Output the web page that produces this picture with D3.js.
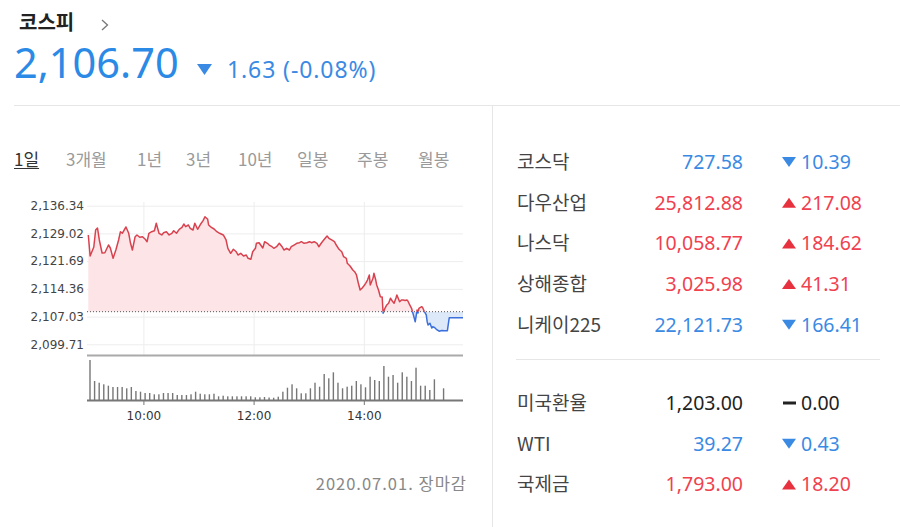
<!DOCTYPE html>
<html>
<head>
<meta charset="utf-8">
<script src="https://cdn.jsdelivr.net/npm/d3@7"></script>
<style>
  body { margin: 0; background: #fff; }
  svg text { font-family: "Noto Sans", "Noto Sans CJK KR", sans-serif; }
</style>
</head>
<body>
<div id="chart"></div>
<script>
// ---- data ----
const indexName = "코스피";
const closeValue = 2106.70;
const closeChange = -1.63;
const closeRate = -0.08;
const prevClose = 2108.33;
const statusLabel = "2020.07.01. 장마감";

const periodTabs = ["1일", "3개월", "1년", "3년", "10년", "일봉", "주봉", "월봉"];
const yTicks = [2136.34, 2129.02, 2121.69, 2114.36, 2107.03, 2099.71];
const xTicks = ["10:00", "12:00", "14:00"];

// intraday price [time, value]
const prices = [
  ["09:00", 2128.60], ["09:02", 2123.05], ["09:06", 2125.43], ["09:08", 2129.92],
  ["09:10", 2130.45], ["09:12", 2127.28], ["09:15", 2123.84], ["09:18", 2123.90],
  ["09:22", 2125.95], ["09:24", 2125.16], ["09:27", 2122.44], ["09:30", 2124.63],
  ["09:33", 2127.28], ["09:35", 2129.47], ["09:37", 2129.05], ["09:41", 2130.71],
  ["09:44", 2129.05], ["09:46", 2126.40], ["09:48", 2124.63], ["09:51", 2128.15],
  ["09:53", 2128.60], ["09:56", 2127.99], ["09:59", 2128.15], ["10:02", 2127.46],
  ["10:04", 2126.83], ["10:06", 2129.05], ["10:09", 2129.47], ["10:12", 2129.73],
  ["10:14", 2131.69], ["10:17", 2129.05], ["10:20", 2128.60], ["10:22", 2129.20],
  ["10:25", 2129.47], ["10:28", 2128.60], ["10:31", 2129.05], ["10:33", 2129.73],
  ["10:36", 2129.05], ["10:39", 2130.10], ["10:42", 2130.63], ["10:44", 2131.50],
  ["10:46", 2130.79], ["10:49", 2131.24], ["10:51", 2130.37], ["10:54", 2129.92],
  ["10:56", 2131.69], ["10:59", 2130.10], ["11:02", 2131.37], ["11:05", 2132.38],
  ["11:07", 2133.43], ["11:10", 2132.75], ["11:11", 2131.24], ["11:14", 2130.63],
  ["11:17", 2130.18], ["11:20", 2129.47], ["11:23", 2129.05], ["11:27", 2128.60],
  ["11:30", 2127.28], ["11:32", 2125.08], ["11:35", 2123.76], ["11:38", 2124.82],
  ["11:41", 2124.18], ["11:43", 2123.31], ["11:46", 2123.76], ["11:49", 2123.05],
  ["11:52", 2123.31], ["11:54", 2122.44], ["11:57", 2122.18], ["11:59", 2124.18],
  ["12:02", 2125.08], ["12:03", 2126.40], ["12:06", 2126.56], ["12:09", 2125.50],
  ["12:10", 2125.16], ["12:12", 2126.83], ["12:15", 2126.40], ["12:17", 2125.95],
  ["12:20", 2125.50], ["12:22", 2125.08], ["12:25", 2125.50], ["12:28", 2126.40],
  ["12:31", 2125.50], ["12:33", 2124.63], ["12:36", 2125.08], ["12:39", 2124.63],
  ["12:41", 2125.50], ["12:44", 2125.95], ["12:47", 2126.40], ["12:50", 2126.56],
  ["12:52", 2126.83], ["12:55", 2126.40], ["12:58", 2126.56], ["13:01", 2126.83],
  ["13:03", 2126.56], ["13:06", 2126.83], ["13:09", 2126.40], ["13:11", 2125.50],
  ["13:14", 2126.56], ["13:17", 2127.46], ["13:20", 2128.33], ["13:22", 2127.72],
  ["13:25", 2127.28], ["13:28", 2126.83], ["13:30", 2125.95], ["13:33", 2124.82],
  ["13:36", 2124.18], ["13:38", 2122.86], ["13:41", 2122.44], ["13:42", 2121.12],
  ["13:45", 2120.40], ["13:48", 2119.35], ["13:50", 2118.90], ["13:52", 2118.03],
  ["13:54", 2115.91], ["13:56", 2114.06], ["13:58", 2114.51], ["14:00", 2115.12],
  ["14:02", 2115.83], ["14:04", 2116.70], ["14:06", 2118.03], ["14:07", 2115.38],
  ["14:10", 2117.15], ["14:11", 2118.48], ["14:13", 2116.70], ["14:14", 2115.38],
  ["14:16", 2114.06], ["14:18", 2112.29], ["14:20", 2112.21], ["14:21", 2107.90],
  ["14:23", 2109.23], ["14:25", 2110.10], ["14:27", 2110.55], ["14:29", 2111.87],
  ["14:31", 2111.16], ["14:33", 2110.55], ["14:35", 2111.95], ["14:36", 2112.74],
  ["14:39", 2110.97], ["14:41", 2111.42], ["14:43", 2111.42], ["14:45", 2111.29],
  ["14:47", 2111.42], ["14:48", 2111.16], ["14:50", 2110.10], ["14:52", 2109.23],
  ["14:54", 2107.46], ["14:56", 2105.68], ["14:58", 2108.78], ["14:59", 2107.98],
  ["15:00", 2109.23], ["15:03", 2109.65], ["15:04", 2109.44], ["15:06", 2108.33],
  ["15:08", 2107.46], ["15:09", 2105.68], ["15:10", 2104.81], ["15:12", 2105.26],
  ["15:14", 2104.02], ["15:15", 2104.36], ["15:17", 2104.15], ["15:19", 2103.68],
  ["15:22", 2103.17], ["15:25", 2103.36], ["15:28", 2103.31], ["15:31", 2103.31],
  ["15:33", 2106.70], ["15:48", 2106.70]
];

// 5-minute volume bars from 09:00
const volumes = [
  40, 19, 17.3, 15.7, 14.3, 13, 13, 13, 11.7, 13,
  9, 8.3, 7, 7, 5.7, 5.7, 7, 7, 7, 5,
  5, 5, 5.7, 8.3, 6.3, 5.7, 5.7, 6.3, 3.7, 4.3,
  3.7, 3.7, 3.7, 3.7, 3.7, 3.7, 2.7, 2.7, 3, 2.5,
  2.3, 3.3, 8.3, 12.3, 15.7, 11.7, 6.7, 6.7, 11.7, 17.3,
  13.3, 26, 21.7, 27.7, 17.3, 11.7, 13.3, 14.3, 19, 15.7,
  12.7, 23.3, 20, 19, 34, 23.3, 25, 17.3, 27.7, 23.3,
  19, 32.3, 14.3, 14.3, 10, 20.7, 0, 11.7
];

const marketNames = ["코스닥", "다우산업", "나스닥", "상해종합", "니케이225"];
const marketValues = ["727.58", "25,812.88", "10,058.77", "3,025.98", "22,121.73"];
const marketChanges = [-10.39, 217.08, 184.62, 41.31, -166.41];

const otherNames = ["미국환율", "WTI", "국제금"];
const otherValues = ["1,203.00", "39.27", "1,793.00"];
const otherChanges = [0, -0.43, 18.20];

// ---- colours ----
const UP = "#f0414f", DOWN = "#3a8ae4", FLAT = "#222";
const colorOf = (c) => (c > 0 ? UP : c < 0 ? DOWN : FLAT);

const W = 900, H = 527;
const svg = d3.select("#chart").append("svg")
  .attr("width", W).attr("height", H);

// ---- header ----
svg.append("text").attr("x", 19).attr("y", 30)
  .style("font-family", "'Noto Sans CJK KR'")
  .style("font-size", "20px").style("font-weight", "bold")
  .attr("fill", "#222").text(indexName);
svg.append("path").attr("d", "M102,20 L107.5,25 L102,30")
  .attr("fill", "none").attr("stroke", "#777").attr("stroke-width", 1.3);

const fmt2 = d3.format(",.2f");
const headColor = colorOf(closeChange);
svg.append("text").attr("x", 14).attr("y", 78)
  .style("font-size", "41.5px").attr("fill", "#2b8ae6")
  .text(fmt2(closeValue));
svg.append("path").attr("d", "M197,64 L212,64 L204.5,75 Z").attr("fill", headColor);
svg.append("text").attr("x", 227).attr("y", 78)
  .style("font-size", "23px").style("letter-spacing", "0.9px").attr("fill", headColor)
  .text(Math.abs(closeChange).toFixed(2) + " (" + closeRate.toFixed(2) + "%)");

svg.append("line").attr("x1", 14).attr("x2", W).attr("y1", 105.5).attr("y2", 105.5)
  .attr("stroke", "#e6e6e6");
svg.append("line").attr("x1", 492.5).attr("x2", 492.5).attr("y1", 105).attr("y2", H)
  .attr("stroke", "#e6e6e6");

// ---- period tabs ----
const tabLeft = [14, 66, 137, 186, 238, 297, 357, 418];
periodTabs.forEach((label, i) => {
  const t = svg.append("text").attr("x", tabLeft[i]).attr("y", 166)
    .style("font-family", "'Noto Sans CJK KR'")
    .style("font-size", "17px")
    .attr("fill", i == 0 ? "#333" : "#9a9a9a")
    .text(label);
  if (i == 0) {
    const w = t.node().getComputedTextLength();
    svg.append("line").attr("x1", tabLeft[i]).attr("x2", tabLeft[i] + w)
      .attr("y1", 168.5).attr("y2", 168.5).attr("stroke", "#333");
  }
});

// ---- price chart ----
const parseT = (s) => d3.timeParse("%Y-%m-%d %H:%M")("2020-07-01 " + s);
const priceData = prices.map((p) => ({ t: parseT(p[0]), v: p[1] }));

const left = 87, right = 463;
const x = d3.scaleTime()
  .domain([parseT("09:00"), parseT("15:48")])
  .range([88.3, 463]);
const y = d3.scaleLinear()
  .domain([2099.71, 2136.34])
  .range([344.3, 205.7]);
const yv = d3.scaleLinear().domain([0, 42]).range([400, 358]);

// horizontal grid + labels
const gy = svg.append("g")
  .attr("transform", "translate(" + left + ",0)")
  .call(d3.axisLeft(y).tickValues(yTicks).tickSize(-(right - left))
    .tickPadding(3).tickFormat(fmt2));
gy.select(".domain").remove();
gy.selectAll(".tick line").attr("stroke", "#ededed");
gy.selectAll(".tick text")
  .style("font-family", "'DejaVu Sans'").style("font-size", "12px")
  .attr("fill", "#444");

// vertical grid
const gx = svg.append("g")
  .attr("transform", "translate(0,355)")
  .call(d3.axisBottom(x).tickValues(xTicks.map(parseT)).tickSize(-153).tickFormat(""));
gx.select(".domain").remove();
gx.selectAll(".tick line").attr("stroke", "#ededed");

const baseY = y(prevClose);
const defs = svg.append("defs");
defs.append("clipPath").attr("id", "clip-up").append("rect")
  .attr("x", left).attr("y", 195).attr("width", right - left + 2).attr("height", baseY - 195);
defs.append("clipPath").attr("id", "clip-down").append("rect")
  .attr("x", left).attr("y", baseY).attr("width", right - left + 2).attr("height", 355 - baseY);

const area = d3.area()
  .x((d) => x(d.t))
  .y0(baseY)
  .y1((d) => y(d.v));
const line = d3.line()
  .x((d) => x(d.t))
  .y((d) => y(d.v));

[["clip-up", "#fde4e6", "#d8424f"], ["clip-down", "#dde8f8", "#3b6fdc"]].forEach((c) => {
  const g = svg.append("g").attr("clip-path", "url(#" + c[0] + ")");
  g.append("path").datum(priceData).attr("fill", c[1]).attr("d", area);
  g.append("path").datum(priceData).attr("fill", "none")
    .attr("stroke", c[2]).attr("stroke-width", 1.5)
    .attr("stroke-linejoin", "round").attr("d", line);
});

// previous close
svg.append("line").attr("x1", left).attr("x2", right)
  .attr("y1", baseY).attr("y2", baseY)
  .attr("stroke", "#555").attr("stroke-dasharray", "1,2");

svg.append("line").attr("x1", left).attr("x2", right)
  .attr("y1", 355.5).attr("y2", 355.5)
  .attr("stroke", "#aaa").attr("stroke-width", 2);

// ---- volume ----
const volData = volumes.map((v, i) => ({ t: d3.timeMinute.offset(parseT("09:00"), 5 * i), v: v }));
svg.append("g").selectAll("rect").data(volData.filter((d) => d.v > 0)).join("rect")
  .attr("x", (d) => x(d.t) + 1)
  .attr("y", (d) => yv(d.v))
  .attr("width", 1.4)
  .attr("height", (d) => yv(0) - yv(d.v))
  .attr("fill", "#777");

const gxb = svg.append("g")
  .attr("transform", "translate(0,400)")
  .call(d3.axisBottom(x).tickValues(xTicks.map(parseT)).tickSize(5).tickPadding(6)
    .tickFormat(d3.timeFormat("%H:%M")));
gxb.select(".domain").remove();
gxb.selectAll(".tick line").attr("stroke", "#777");
gxb.selectAll(".tick text")
  .style("font-family", "'DejaVu Sans'").style("font-size", "12px").attr("fill", "#333");
svg.append("line").attr("x1", left).attr("x2", right)
  .attr("y1", 400.5).attr("y2", 400.5)
  .attr("stroke", "#777").attr("stroke-width", 2);

svg.append("text").attr("x", 467).attr("y", 490)
  .attr("text-anchor", "end")
  .style("font-family", "'Noto Sans CJK KR'").style("font-size", "16.5px")
  .style("letter-spacing", "1px")
  .attr("fill", "#888").text(statusLabel);

// ---- market table ----
function drawRows(names, values, changes, y0) {
  names.forEach((name, i) => {
    const ry = y0 + i * 40.7;
    const c = changes[i];
    svg.append("text").attr("x", 517).attr("y", ry)
      .style("font-family", "'Noto Sans CJK KR'").style("font-size", "19px")
      .attr("fill", "#444").text(name);
    svg.append("text").attr("x", 743).attr("y", ry).attr("text-anchor", "end")
      .style("font-size", "19.5px").attr("fill", colorOf(c)).text(values[i]);
    if (c > 0) {
      svg.append("path").attr("d", "M782," + (ry - 2) + " L796," + (ry - 2) + " L789," + (ry - 12) + " Z")
        .attr("fill", "#e8313f");
    } else if (c < 0) {
      svg.append("path").attr("d", "M782," + (ry - 12) + " L796," + (ry - 12) + " L789," + (ry - 2) + " Z")
        .attr("fill", DOWN);
    } else {
      svg.append("rect").attr("x", 783).attr("y", ry - 8.5).attr("width", 13).attr("height", 3)
        .attr("fill", FLAT);
    }
    svg.append("text").attr("x", 801).attr("y", ry)
      .style("font-size", "19.5px").attr("fill", colorOf(c))
      .text(Math.abs(c).toFixed(2));
  });
}
drawRows(marketNames, marketValues, marketChanges, 169);
svg.append("line").attr("x1", 516).attr("x2", 880).attr("y1", 359.5).attr("y2", 359.5)
  .attr("stroke", "#e6e6e6");
drawRows(otherNames, otherValues, otherChanges, 410);
</script>
</body>
</html>
